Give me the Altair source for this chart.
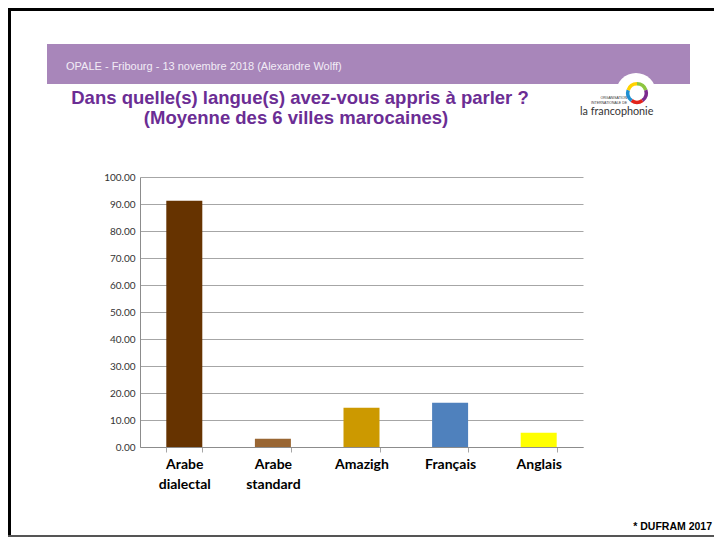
import altair as alt
import pandas as pd

categories = ["Arabe dialectal", "Arabe standard", "Amazigh", "Français", "Anglais"]
values = [91.2, 3.1, 14.5, 16.4, 5.3]
bar_colors = ["#663300", "#996633", "#CC9900", "#4F81BD", "#FFFF00"]
y_ticks = list(range(0, 101, 10))

title_lines = ["Dans quelle(s) langue(s) avez-vous appris à parler ?",
               "(Moyenne des 6 villes marocaines)"]
header_text = "OPALE - Fribourg - 13 novembre 2018 (Alexandre Wolff)"
footer_text = "* DUFRAM 2017"

logo_colors = ["#8DC63F", "#7B2A8E", "#E2231A", "#1F8FD1", "#FFD200"]

# plot area placement on page (page coords)
PL, PT, W, H = 140, 177, 443, 270
TOTAL_W, TOTAL_H = 706, 529


def vx(px):
    return px - PL


def vy(py):
    return py - PT


df = pd.DataFrame({"cat": categories, "val": values, "col": bar_colors})
one = pd.DataFrame({"a": [0]})

bars = alt.Chart(df).mark_bar(size=36).encode(
    x=alt.X("cat:N", sort=categories, title=None,
            scale=alt.Scale(paddingInner=0.59, paddingOuter=0.295),
            axis=alt.Axis(labelAngle=0, labelFont="Lato", labelFontSize=14,
                          labelFontWeight="bold", labelColor="#000000",
                          labelExpr="split(datum.label, ' ')", labelLineHeight=20,
                          labelPadding=5, tickBand="extent", tickSize=5,
                          tickColor="#A6A6A6", domainColor="#8C8C8C", grid=False)),
    y=alt.Y("val:Q", title=None,
            scale=alt.Scale(domain=[0, 100], nice=False),
            axis=alt.Axis(values=y_ticks, format=".2f", labelFont="Lato",
                          labelFontSize=10, labelColor="#333333", ticks=False,
                          labelPadding=5, domainColor="#8C8C8C",
                          gridColor="#A6A6A6", gridWidth=1)),
    color=alt.Color("col:N", scale=None, legend=None),
)

band = alt.Chart(one).mark_rect(color="#A886BA").encode(
    x=alt.value(vx(47)), x2=alt.value(vx(690)),
    y=alt.value(vy(44)), y2=alt.value(vy(84)))

header = alt.Chart(one).mark_text(align="left", baseline="alphabetic", font="Liberation Sans",
                                  fontSize=11, color="#F2ECF6").encode(
    x=alt.value(vx(66)), y=alt.value(vy(70)), text=alt.value(header_text))

t1 = alt.Chart(one).mark_text(align="center", baseline="alphabetic", font="Liberation Sans",
                              fontSize=18.5, fontWeight="bold", color="#6B2D94").encode(
    x=alt.value(vx(300)), y=alt.value(vy(104)), text=alt.value(title_lines[0]))
t2 = alt.Chart(one).mark_text(align="center", baseline="alphabetic", font="Liberation Sans",
                              fontSize=18.5, fontWeight="bold", color="#6B2D94").encode(
    x=alt.value(vx(296)), y=alt.value(vy(124)), text=alt.value(title_lines[1]))

cutout = alt.Chart(one).mark_circle(size=1600, color="white", opacity=1).encode(
    x=alt.value(vx(636)), y=alt.value(vy(93)))

logo_df = pd.DataFrame({"seg": list(range(5)), "v": [1] * 5, "lc": logo_colors})
ring = alt.Chart(logo_df).mark_arc(radius=11, radius2=7.5).encode(
    theta=alt.Theta("v:Q", stack=True),
    order=alt.Order("seg:Q"),
    fill=alt.Fill("lc:N", scale=None, legend=None),
    x=alt.value(vx(637)), y=alt.value(vy(93)))

org1 = alt.Chart(one).mark_text(align="right", baseline="middle", font="Liberation Sans",
                                fontSize=3.5, color="#333333").encode(
    x=alt.value(vx(627)), y=alt.value(vy(98)), text=alt.value("ORGANISATION"))
org2 = alt.Chart(one).mark_text(align="right", baseline="middle", font="Liberation Sans",
                                fontSize=3.5, color="#333333").encode(
    x=alt.value(vx(627)), y=alt.value(vy(103)), text=alt.value("INTERNATIONALE DE"))
franco = alt.Chart(one).mark_text(align="left", baseline="middle", font="Lato",
                                  fontSize=10.8, color="#333333").encode(
    x=alt.value(vx(580)), y=alt.value(vy(112)), text=alt.value("la francophonie"))

footer = alt.Chart(one).mark_text(align="right", baseline="middle", font="Liberation Sans",
                                  fontSize=10.5, fontWeight="bold", color="#000000").encode(
    x=alt.value(vx(712)), y=alt.value(vy(527)), text=alt.value(footer_text))

border_left = alt.Chart(one).mark_rule(color="#000000", strokeWidth=3).encode(
    x=alt.value(vx(9.5)), y=alt.value(vy(8)), y2=alt.value(vy(537)))
border_top = alt.Chart(one).mark_rule(color="#000000", strokeWidth=3).encode(
    x=alt.value(vx(8)), x2=alt.value(vx(714)), y=alt.value(vy(9.5)))
border_bottom = alt.Chart(one).mark_rule(color="#555555", strokeWidth=2).encode(
    x=alt.value(vx(8)), x2=alt.value(vx(714)), y=alt.value(vy(536)))

chart = alt.layer(
    band, header, cutout, ring, org1, org2, franco, t1, t2, bars, footer,
    border_left, border_top, border_bottom
).properties(
    width=W, height=H,
    padding={"left": PL - 8, "top": PT - 8,
             "right": TOTAL_W - (PL - 8) - W, "bottom": TOTAL_H - (PT - 8) - H},
    autosize=alt.AutoSizeParams(type="none"),
    background="white",
).configure_view(stroke=None)

chart.save("out.html", embed_options={"renderer": "svg", "actions": False})
